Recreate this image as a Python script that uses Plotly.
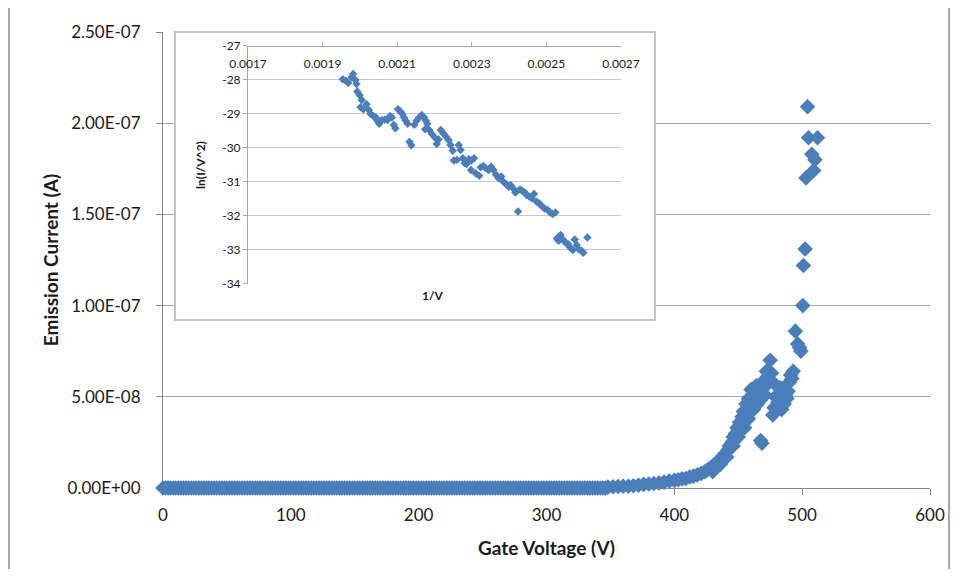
import plotly.graph_objects as go

# ---------------- data ----------------
# Main chart: emission current (A) vs gate voltage (V)
low_gate_voltage = [
    0, 2, 4, 6, 8, 10, 12, 14, 16, 18, 20, 22, 24, 26, 28, 30, 32, 34, 36, 38,
    40, 42, 44, 46, 48, 50, 52, 54, 56, 58, 60, 62, 64, 66, 68, 70, 72, 74, 76, 78,
    80, 82, 84, 86, 88, 90, 92, 94, 96, 98, 100, 102, 104, 106, 108, 110, 112, 114, 116, 118,
    120, 122, 124, 126, 128, 130, 132, 134, 136, 138, 140, 142, 144, 146, 148, 150, 152, 154, 156, 158,
    160, 162, 164, 166, 168, 170, 172, 174, 176, 178, 180, 182, 184, 186, 188, 190, 192, 194, 196, 198,
    200, 202, 204, 206, 208, 210, 212, 214, 216, 218, 220, 222, 224, 226, 228, 230, 232, 234, 236, 238,
    240, 242, 244, 246, 248, 250, 252, 254, 256, 258, 260, 262, 264, 266, 268, 270, 272, 274, 276, 278,
    280, 282, 284, 286, 288, 290, 292, 294, 296, 298, 300, 302, 304, 306, 308, 310, 312, 314, 316, 318,
    320, 322, 324, 326, 328, 330, 332, 334, 336, 338, 340, 342, 344, 346,
]
low_emission_current = [
    0, 0, 0, 0, 0, 0, 0, 0, 0, 0, 0, 0, 0, 0, 0, 0, 0, 0, 0, 0,
    0, 0, 0, 0, 0, 0, 0, 0, 0, 0, 0, 0, 0, 0, 0, 0, 0, 0, 0, 0,
    0, 0, 0, 0, 0, 0, 0, 0, 0, 0, 0, 0, 0, 0, 0, 0, 0, 0, 0, 0,
    0, 0, 0, 0, 0, 0, 0, 0, 0, 0, 0, 0, 0, 0, 0, 0, 0, 0, 0, 0,
    0, 0, 0, 0, 0, 0, 0, 0, 0, 0, 0, 0, 0, 0, 0, 0, 0, 0, 0, 0,
    0, 0, 0, 0, 0, 0, 0, 0, 0, 0, 0, 0, 0, 0, 0, 0, 0, 0, 0, 0,
    0, 0, 0, 0, 0, 0, 0, 0, 0, 0, 0, 0, 0, 0, 0, 0, 0, 0, 0, 0,
    0, 0, 0, 0, 0, 0, 0, 0, 0, 0, 0, 0, 0, 0, 0, 0, 0, 0, 0, 0,
    0, 0, 0, 0, 0, 0, 0, 0, 0, 0, 0, 0, 0, 0,
]
rise_gate_voltage = [
    348, 352, 356, 360, 364, 368, 372, 376, 380, 384, 388, 392, 396, 400, 403, 406, 409, 412, 415, 418,
    421, 424, 426, 428, 430, 432, 434, 436, 438, 440, 442, 443, 445, 446, 447, 448, 449, 450, 451, 452,
    453, 454, 455, 456, 457, 458, 459, 460, 461, 462, 463, 464, 465, 466, 467, 467.5, 468.5, 469, 470, 471,
    472, 473, 474, 475, 476, 477, 478, 479, 480, 481, 482, 483, 484, 485, 486, 487, 488, 489, 490, 491,
    492, 493, 494.7, 496.5, 498, 499, 500.5, 501, 502.3, 503, 504.2, 505, 507.5, 509, 510, 512,
    430, 436, 441, 446, 450, 455, 458, 462,
]
rise_emission_current = [
    5e-10, 7e-10, 8e-10, 1.0e-9, 1.0e-9, 1.2e-9, 1.5e-9, 2.0e-9, 2.2e-9, 2.5e-9,
    2.8e-9, 3.2e-9, 3.8e-9, 4.2e-9, 4.5e-9, 5.0e-9, 5.2e-9, 6.0e-9, 6.5e-9, 7.2e-9,
    8.0e-9, 9.0e-9, 1.0e-8, 1.1e-8, 1.2e-8, 1.3e-8, 1.45e-8, 1.6e-8, 1.75e-8, 1.9e-8,
    2.1e-8, 2.3e-8, 2.5e-8, 2.8e-8, 2.6e-8, 3.0e-8, 3.3e-8, 3.1e-8, 3.6e-8, 3.4e-8,
    3.9e-8, 4.2e-8, 3.8e-8, 4.6e-8, 4.3e-8, 4.9e-8, 4.5e-8, 5.4e-8, 5.0e-8, 4.8e-8,
    5.3e-8, 5.6e-8, 4.6e-8, 5.2e-8, 4.8e-8, 2.6e-8, 2.45e-8, 5.5e-8, 5.9e-8, 5.1e-8,
    6.4e-8, 5.7e-8, 6.0e-8, 7.0e-8, 6.3e-8, 4.0e-8, 4.4e-8, 5.0e-8, 5.6e-8, 4.7e-8,
    5.2e-8, 5.5e-8, 4.3e-8, 4.8e-8, 4.6e-8, 5.1e-8, 4.9e-8, 5.3e-8, 5.8e-8, 6.2e-8,
    6.0e-8, 6.4e-8, 8.6e-8, 7.9e-8, 7.7e-8, 7.5e-8, 1.0e-7, 1.22e-7, 1.31e-7, 1.70e-7,
    2.09e-7, 1.92e-7, 1.83e-7, 1.74e-7, 1.80e-7, 1.92e-7,
    0.9e-8, 1.3e-8, 1.7e-8, 2.3e-8, 2.8e-8, 3.3e-8, 3.8e-8, 4.3e-8,
]

# Inset: Fowler-Nordheim plot ln(I/V^2) vs 1/V
inv_voltage = [
    0.001954, 0.001963, 0.001969, 0.001978, 0.001982, 0.001988, 0.001991, 0.001993, 0.001999, 0.002005,
    0.002002, 0.002009, 0.002018, 0.002024, 0.002029, 0.002036, 0.002043, 0.002047, 0.002052, 0.002059,
    0.002067, 0.002074, 0.002081, 0.002086, 0.002091, 0.002095, 0.002102, 0.002108, 0.002114, 0.002118,
    0.002123, 0.002128, 0.002133, 0.002138, 0.002146, 0.002152, 0.002159, 0.002166, 0.002172, 0.002177,
    0.002181, 0.002175, 0.002186, 0.002193, 0.002201, 0.002206, 0.002211, 0.002217, 0.002224, 0.002231,
    0.002238, 0.002243, 0.002249, 0.002252, 0.002260, 0.002265, 0.002270, 0.002276, 0.002281, 0.002286,
    0.002292, 0.002299, 0.002306, 0.002298, 0.002311, 0.002320, 0.002324, 0.002331, 0.002338, 0.002345,
    0.002352, 0.002358, 0.002365, 0.002372, 0.002379, 0.002385, 0.002392, 0.002399, 0.002404, 0.002411,
    0.002417, 0.002424, 0.002429, 0.002435, 0.002442, 0.002447, 0.002454, 0.002461, 0.002467, 0.002474,
    0.002481, 0.002488, 0.002495, 0.002503, 0.002510, 0.002517, 0.002524, 0.002528, 0.002533, 0.002538,
    0.002544, 0.002551, 0.002558, 0.002563, 0.002571, 0.002576, 0.002581, 0.002587, 0.002594, 0.002599,
    0.002610,
]
ln_i_over_v2 = [
    -27.98, -28.02, -28.08, -27.92, -27.82, -28.00, -28.12, -28.34, -28.44, -28.59,
    -28.80, -28.86, -28.71, -28.88, -29.00, -29.06, -29.10, -29.20, -29.29, -29.18,
    -29.16, -29.18, -29.06, -29.10, -29.32, -29.42, -28.86, -28.92, -29.00, -29.10,
    -29.20, -29.29, -29.82, -29.92, -29.32, -29.20, -29.10, -29.03, -29.10, -29.20,
    -29.29, -29.45, -29.47, -29.59, -29.69, -29.88, -29.75, -29.47, -29.57, -29.67,
    -29.77, -29.91, -30.08, -30.37, -30.35, -29.91, -30.06, -30.30, -30.45, -30.47,
    -30.33, -30.37, -30.30, -30.65, -30.75, -30.82, -30.57, -30.53, -30.60, -30.65,
    -30.55, -30.65, -30.79, -30.89, -30.84, -30.99, -31.06, -31.14, -31.09, -31.19,
    -31.31, -31.87, -31.22, -31.26, -31.31, -31.38, -31.43, -31.48, -31.35, -31.58,
    -31.63, -31.71, -31.78, -31.82, -31.90, -31.94, -31.90, -32.66, -32.73, -32.56,
    -32.69, -32.78, -32.82, -32.92, -33.00, -32.69, -32.85, -32.98, -33.02, -33.08,
    -32.63,
]

# Tick labels
main_x_ticks = [0, 100, 200, 300, 400, 500, 600]
main_y_ticks = [0, 5e-8, 1e-7, 1.5e-7, 2e-7, 2.5e-7]
main_y_labels = ["0.00E+00", "5.00E-08", "1.00E-07", "1.50E-07", "2.00E-07", "2.50E-07"]
inset_x_ticks = [0.0017, 0.0019, 0.0021, 0.0023, 0.0025, 0.0027]
inset_x_labels = ["0.0017", "0.0019", "0.0021", "0.0023", "0.0025", "0.0027"]
inset_y_ticks = [-27, -28, -29, -30, -31, -32, -33, -34]
inset_y_labels = ["-27", "-28", "-29", "-30", "-31", "-32", "-33", "-34"]

# ---------------- figure ----------------
BLUE = "#4A7EBB"
AXIS = "#868686"
FONT = "Lato, 'Open Sans', sans-serif"

gate_voltage = low_gate_voltage + rise_gate_voltage
emission_current = low_emission_current + rise_emission_current

fig = go.Figure()
fig.add_trace(go.Scatter(
    x=gate_voltage, y=emission_current, mode="markers",
    marker=dict(symbol="diamond", size=12, color=BLUE, line=dict(width=0)),
    cliponaxis=False, xaxis="x", yaxis="y", showlegend=False, hoverinfo="x+y",
))
# invisible trace that creates the white inset panel (x2/y2)
fig.add_trace(go.Scatter(x=[None], y=[None], mode="markers", xaxis="x2", yaxis="y2",
                         showlegend=False, hoverinfo="skip"))
fig.add_trace(go.Scatter(
    x=inv_voltage, y=ln_i_over_v2, mode="markers",
    marker=dict(symbol="diamond", size=6.5, color=BLUE, line=dict(width=0)),
    xaxis="x3", yaxis="y3", showlegend=False,
))

# the page body has an 8px margin, so the figure is 942x561 drawn at (8, 8)
fig.update_layout(
    width=942, height=561, autosize=False,
    margin=dict(l=155, r=20, t=24, b=81, autoexpand=False),
    paper_bgcolor="white", plot_bgcolor="white",
    showlegend=False,
    font=dict(family=FONT, color="#1a1a1a"),
    xaxis=dict(
        domain=[0, 1], range=[0, 600], tickvals=main_x_ticks,
        ticks="outside", ticklen=6, tickcolor=AXIS, showline=True, linecolor=AXIS,
        showgrid=False, zeroline=False, tickfont=dict(size=17), ticklabelstandoff=6,
        title=dict(text="Gate Voltage (V)", font=dict(size=19, weight="bold"), standoff=17),
        layer="below traces", automargin=False,
    ),
    yaxis=dict(
        domain=[0, 1], range=[0, 2.5e-7], tickvals=main_y_ticks, ticktext=main_y_labels,
        ticks="outside", ticklen=6, tickcolor=AXIS, showline=True, linecolor=AXIS,
        showgrid=True, gridcolor="#A6A6A6", zeroline=False, tickfont=dict(size=17),
        ticklabelstandoff=12,
        title=dict(text="Emission Current (A)", font=dict(size=19, weight="bold"), standoff=3),
        layer="below traces", automargin=False,
    ),
    xaxis2=dict(domain=[0.01695, 0.6402], anchor="y2", range=[0, 1], showline=True, mirror=True,
                linecolor="#C4C4C4", linewidth=2, showgrid=False, zeroline=False,
                showticklabels=False, ticks="", automargin=False),
    yaxis2=dict(domain=[0.3706, 0.9978], anchor="x2", range=[0, 1], showline=True, mirror=True,
                linecolor="#C4C4C4", linewidth=2, showgrid=False, zeroline=False,
                showticklabels=False, ticks="", automargin=False),
    xaxis3=dict(
        domain=[0.1108, 0.5971], anchor="free", position=0.9693, side="bottom",
        range=[0.0017, 0.0027],
        tickvals=inset_x_ticks, ticktext=inset_x_labels, ticks="inside", ticklen=4,
        tickcolor="#A6A6A6", showline=True, linecolor="#A6A6A6", showgrid=False,
        zeroline=False, ticklabelstandoff=7, automargin=False,
        tickfont=dict(size=12),
    ),
    yaxis3=dict(
        domain=[0.4474, 0.9693], anchor="x3", range=[-34, -27],
        tickvals=inset_y_ticks, ticktext=inset_y_labels, ticks="outside", ticklen=4,
        tickcolor="#A6A6A6", showline=True, linecolor="#A6A6A6", showgrid=True,
        gridcolor="#C8C8C8", zeroline=False, tickfont=dict(size=12), automargin=False,
        title=dict(text="ln(I/V^2)", font=dict(size=12, weight="bold"), standoff=13),
    ),
    annotations=[dict(
        text="1/V", xref="x3 domain", yref="y3 domain", x=0.496, y=-0.05,
        xanchor="center", yanchor="middle", showarrow=False,
        font=dict(size=12, weight="bold", family=FONT, color="#1a1a1a"),
    )],
    shapes=[dict(
        type="rect", xref="paper", yref="paper", x0=-0.2008, x1=1.0248, y0=-0.19, y1=1.0548,
        line=dict(color="#8C8C8C", width=1.5), fillcolor="rgba(0,0,0,0)", layer="below",
    )],
)

fig.write_html("out.html")
